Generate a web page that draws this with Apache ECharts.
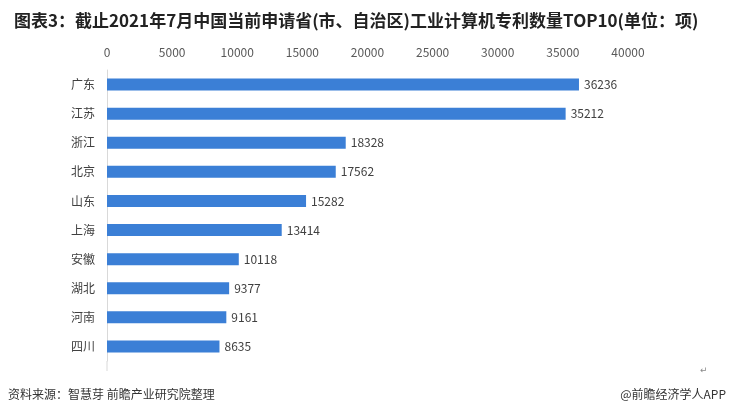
<!DOCTYPE html>
<html><head><meta charset="utf-8">
<script src="https://cdn.jsdelivr.net/npm/echarts@6/dist/echarts.min.js"></script>
<style>html,body{margin:0;padding:0;background:#fff;}#c{width:731px;height:416px;}</style>
</head><body><div id="c"></div>
<script>
var categories = ['广东','江苏','浙江','北京','山东','上海','安徽','湖北','河南','四川'];
var values = [36236,35212,18328,17562,15282,13414,10118,9377,9161,8635];
var xTicks = [0,5000,10000,15000,20000,25000,30000,35000,40000];

var chart = echarts.init(document.getElementById('c'));
chart.setOption({
  animation:false,
  backgroundColor:'#fff',
  title:{text:'图表3：截止2021年7月中国当前申请省(市、自治区)工业计算机专利数量TOP10(单位：项)',left:9,top:7,
    textStyle:{fontFamily:'Noto Sans CJK SC',fontSize:17,fontWeight:'bold',color:'#222'}},
  grid:{left:107,right:103,top:70,height:291,containLabel:false},
  xAxis:{type:'value',position:'top',min:xTicks[0],max:xTicks[xTicks.length-1],interval:5000,
    axisLine:{show:false},axisTick:{show:false},splitLine:{show:false},
    axisLabel:{color:'#595959',fontSize:12,fontFamily:'Noto Sans CJK SC',margin:12,formatter:function(v){return String(v);}}},
  yAxis:{type:'category',data:categories,inverse:true,
    axisLine:{show:true,lineStyle:{color:'#d9d9d9'}},axisTick:{show:false},
    axisLabel:{color:'#404040',fontSize:12,fontFamily:'Noto Sans CJK SC',margin:12}},
  series:[{type:'bar',data:values,barWidth:12,itemStyle:{color:'#3b7fd6'},
    label:{show:true,position:'right',distance:5,color:'#404040',fontSize:12,fontFamily:'Noto Sans CJK SC'}}],
  graphic:[
    {type:'line',shape:{x1:107,y1:361,x2:107,y2:371},style:{stroke:'#d9d9d9',lineWidth:1}},
    {type:'text',left:8,top:388,style:{text:'资料来源：智慧芽 前瞻产业研究院整理',fontSize:12,fill:'#333',fontFamily:'Noto Sans CJK SC'}},
    {type:'text',right:5,top:388,style:{text:'@前瞻经济学人APP',fontSize:12,fill:'#333',fontFamily:'Noto Sans CJK SC'}},
    {type:'text',left:700,top:366,style:{text:'↵',fontSize:9,fill:'#888',fontFamily:'DejaVu Sans'}}
  ]
});
</script></body></html>
